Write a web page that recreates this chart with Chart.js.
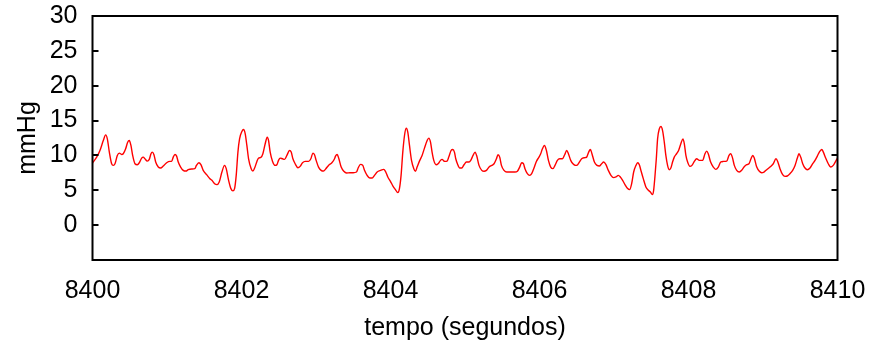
<!DOCTYPE html>
<html>
<head>
<meta charset="utf-8">
<script src="https://cdn.jsdelivr.net/npm/chart.js@4"></script>
<style>
  body { margin: 0; background: #fff; }
  #wrap { width: 875px; height: 344px; }
</style>
</head>
<body>
<div id="wrap"><canvas id="presionChart" width="875" height="344"></canvas></div>
<script>
// tiempo en segundos
const tempo = [
  8400.000, 8400.056, 8400.100, 8400.145, 8400.177, 8400.199, 8400.226, 8400.257, 8400.279, 8400.302,
  8400.333, 8400.360, 8400.392, 8400.413, 8400.445, 8400.472, 8400.494, 8400.516, 8400.539, 8400.570,
  8400.601, 8400.628, 8400.660, 8400.681, 8400.704, 8400.735, 8400.762, 8400.785, 8400.802, 8400.825,
  8400.848, 8400.883, 8400.915, 8400.950, 8400.995, 8401.040, 8401.062, 8401.084, 8401.107, 8401.129,
  8401.151, 8401.183, 8401.218, 8401.254, 8401.285, 8401.330, 8401.373, 8401.395, 8401.428, 8401.455,
  8401.486, 8401.532, 8401.576,
  8401.603, 8401.639, 8401.670, 8401.701, 8401.737, 8401.773, 8401.795, 8401.827, 8401.858, 8401.885,
  8401.907, 8401.929, 8401.952, 8401.974, 8402.005, 8402.028, 8402.050, 8402.072, 8402.095, 8402.130,
  8402.153, 8402.176, 8402.207, 8402.229, 8402.260, 8402.287, 8402.318, 8402.345, 8402.363, 8402.385,
  8402.417, 8402.452, 8402.475, 8402.497, 8402.519, 8402.551, 8402.578, 8402.609, 8402.645, 8402.667,
  8402.690, 8402.720, 8402.757, 8402.787, 8402.819, 8402.855, 8402.900, 8402.931, 8402.958, 8402.980,
  8403.002, 8403.034, 8403.069, 8403.101, 8403.132, 8403.168, 8403.213, 8403.249,
  8403.262, 8403.284, 8403.307, 8403.338, 8403.374, 8403.410, 8403.454, 8403.499, 8403.544, 8403.566,
  8403.597, 8403.628, 8403.651, 8403.686, 8403.722, 8403.754, 8403.785, 8403.821, 8403.866, 8403.910,
  8403.932, 8403.964, 8403.999, 8404.035, 8404.066, 8404.098, 8404.120, 8404.142, 8404.165, 8404.188,
  8404.210, 8404.232, 8404.255, 8404.282, 8404.313, 8404.335, 8404.357, 8404.393, 8404.424, 8404.456,
  8404.492, 8404.514, 8404.537, 8404.558, 8404.581, 8404.612, 8404.639, 8404.671, 8404.692, 8404.728,
  8404.759, 8404.782, 8404.813, 8404.836, 8404.858,
  8404.876, 8404.898, 8404.930, 8404.956, 8404.987, 8405.019, 8405.054, 8405.077, 8405.108, 8405.135,
  8405.158, 8405.188, 8405.225, 8405.256, 8405.288, 8405.323, 8405.359, 8405.390, 8405.422, 8405.443,
  8405.466, 8405.489, 8405.524, 8405.560, 8405.600, 8405.636, 8405.671, 8405.703, 8405.734, 8405.761,
  8405.784, 8405.805, 8405.837, 8405.868, 8405.895, 8405.926, 8405.958, 8405.993, 8406.016, 8406.039,
  8406.066, 8406.093, 8406.120, 8406.150, 8406.181, 8406.208, 8406.240, 8406.271, 8406.307, 8406.338,
  8406.365, 8406.388, 8406.419, 8406.449, 8406.485,
  8406.512, 8406.535, 8406.566, 8406.602, 8406.633, 8406.660, 8406.683, 8406.704, 8406.737, 8406.772,
  8406.803, 8406.834, 8406.861, 8406.892, 8406.924, 8406.959, 8406.995, 8407.026, 8407.058, 8407.085,
  8407.116, 8407.147, 8407.183, 8407.210, 8407.237, 8407.264, 8407.295, 8407.317, 8407.340, 8407.361,
  8407.393, 8407.428, 8407.461, 8407.488, 8407.515, 8407.532, 8407.549, 8407.568, 8407.585, 8407.608,
  8407.630, 8407.652, 8407.675, 8407.696, 8407.719, 8407.742, 8407.763, 8407.786, 8407.809, 8407.840,
  8407.867, 8407.897, 8407.925, 8407.944, 8407.965, 8407.988, 8408.019, 8408.046, 8408.078, 8408.109,
  8408.145,
  8408.190, 8408.221, 8408.244, 8408.265, 8408.297, 8408.333, 8408.365, 8408.400, 8408.432, 8408.467,
  8408.513, 8408.544, 8408.566, 8408.588, 8408.615, 8408.647, 8408.682, 8408.714, 8408.745, 8408.781,
  8408.812, 8408.839, 8408.862, 8408.883, 8408.916, 8408.951, 8408.982, 8409.013, 8409.050, 8409.094,
  8409.138, 8409.174, 8409.197, 8409.228, 8409.264, 8409.295, 8409.326, 8409.362, 8409.398, 8409.430,
  8409.461, 8409.483, 8409.506, 8409.533, 8409.564, 8409.595, 8409.631, 8409.667, 8409.698, 8409.729,
  8409.756, 8409.788, 8409.810, 8409.841, 8409.876, 8409.908, 8409.943, 8409.975, 8410.000
];

// presión en mmHg
const mmHg = [
  8.9, 9.76, 10.71, 12.14, 12.95, 12.38, 10.48, 8.81, 8.57, 8.81,
  10.0, 10.33, 10.14, 10.24, 10.95, 11.9, 12.14, 11.43, 10.0, 8.81,
  8.67, 8.95, 9.62, 9.76, 9.52, 9.19, 9.43, 10.24, 10.48, 10.1,
  9.05, 8.33, 8.19, 8.48, 8.95, 9.14, 9.14, 9.76, 10.14, 9.9,
  9.05, 8.33, 7.86, 7.76, 7.95, 8.05, 8.1, 8.57, 8.95, 8.67,
  7.86, 7.24, 6.67,
  6.43, 5.95, 5.81, 6.19, 7.62, 8.57, 8.1, 6.43, 5.24, 4.91,
  5.24, 7.14, 10.48, 12.38, 13.43, 13.72, 13.1, 11.43, 9.52, 8.1,
  7.76, 8.19, 9.14, 9.62, 9.71, 10.24, 11.67, 12.62, 12.14, 10.48,
  9.14, 8.57, 8.67, 9.29, 9.62, 9.52, 9.43, 10.0, 10.71, 10.48,
  9.52, 8.81, 8.24, 8.43, 8.95, 9.14, 9.14, 9.52, 10.33, 10.1,
  9.29, 8.33, 7.86, 7.76, 8.1, 8.57, 8.95, 9.52,
  9.91, 10.14, 9.52, 8.33, 7.72, 7.48, 7.52, 7.52, 7.62, 8.19,
  8.71, 8.57, 7.86, 7.14, 6.76, 6.76, 7.14, 7.62, 7.86, 8.0,
  7.72, 6.91, 6.29, 5.57, 5.1, 4.67, 5.24, 7.14, 10.48, 12.86,
  13.9, 13.34, 11.43, 9.29, 8.1, 7.72, 8.33, 9.29, 10.0, 11.05,
  12.14, 12.48, 11.91, 10.48, 9.29, 8.67, 8.81, 9.29, 9.43, 9.14,
  9.19, 9.76, 10.71, 10.86, 10.48,
  9.52, 8.81, 8.19, 8.19, 8.67, 9.05, 9.05, 9.29, 10.0, 10.48,
  9.91, 8.57, 7.86, 7.72, 7.86, 8.33, 8.57, 8.81, 9.52, 10.1,
  9.76, 8.57, 7.86, 7.62, 7.62, 7.62, 7.62, 7.72, 8.33, 8.95,
  8.81, 8.1, 7.38, 7.14, 7.38, 8.19, 9.14, 9.76, 10.24, 10.95,
  11.43, 10.71, 9.29, 8.33, 8.1, 8.57, 9.29, 9.52, 9.52, 10.1,
  10.71, 10.24, 9.29, 8.81, 8.57,
  8.67, 9.05, 9.52, 9.67, 9.76, 10.48, 10.86, 10.24, 9.05, 8.57,
  8.48, 8.81, 9.05, 8.67, 7.86, 7.14, 6.81, 6.91, 7.14, 6.91,
  6.43, 5.81, 5.24, 5.1, 5.95, 7.62, 8.57, 8.95, 8.67, 7.86,
  6.67, 5.48, 5.0, 4.76, 4.38, 5.0, 6.91, 9.52, 12.38, 13.81,
  14.14, 13.57, 11.91, 10.0, 8.57, 7.95, 8.19, 9.05, 9.76, 10.24,
  10.71, 11.67, 12.38, 11.67, 10.0, 9.05, 8.43, 8.57, 9.14, 9.52,
  9.29,
  9.29, 10.24, 10.62, 10.24, 9.05, 8.33, 8.0, 8.33, 9.05, 9.14,
  9.19, 10.0, 10.24, 9.76, 8.57, 7.86, 7.62, 7.86, 8.33, 8.67,
  8.81, 9.52, 10.0, 9.62, 8.33, 7.72, 7.52, 7.62, 7.95, 8.33,
  8.81, 9.52, 9.14, 8.1, 7.24, 7.0, 7.05, 7.38, 7.86, 8.57,
  9.62, 10.24, 9.76, 8.81, 8.19, 7.95, 8.19, 8.81, 9.29, 9.91,
  10.48, 10.86, 10.48, 9.62, 8.81, 8.33, 8.57, 9.14, 9.62
];

const xTicks = [8400, 8402, 8404, 8406, 8408, 8410];
const yTicks = [0, 5, 10, 15, 20, 25, 30];

const fuente = "'Liberation Sans', Arial, sans-serif";

// marco negro con marcas hacia dentro
const marcoPlugin = {
  id: 'marco',
  afterDraw(chart) {
    const ctx = chart.ctx;
    const a = chart.chartArea;
    const y = chart.scales.y;
    ctx.save();
    ctx.strokeStyle = '#000';
    ctx.lineWidth = 2;
    ctx.strokeRect(a.left, a.top, a.right - a.left, a.bottom - a.top);
    ctx.beginPath();
    yTicks.forEach(v => {
      const py = Math.round(y.getPixelForValue(v));
      ctx.moveTo(a.left, py);
      ctx.lineTo(a.left + 6, py);
      ctx.moveTo(a.right, py);
      ctx.lineTo(a.right - 6, py);
    });
    ctx.stroke();
    ctx.restore();
  }
};

const ctx = document.getElementById('presionChart').getContext('2d');
new Chart(ctx, {
  type: 'line',
  data: {
    datasets: [{
      data: tempo.map((t, i) => ({ x: t, y: mmHg[i] })),
      borderColor: '#ff0000',
      borderWidth: 1.4,
      pointRadius: 0,
      fill: false,
      cubicInterpolationMode: 'monotone'
    }]
  },
  options: {
    responsive: false,
    animation: false,
    layout: { padding: { top: 16, right: 37.5, left: 0, bottom: 0 } },
    plugins: { legend: { display: false }, tooltip: { enabled: false } },
    scales: {
      x: {
        type: 'linear',
        min: 8400,
        max: 8410,
        afterFit(scale) {
          scale.height = 84;
          scale.paddingLeft = 0;
          scale.paddingRight = 0;
        },
        afterBuildTicks(scale) { scale.ticks = xTicks.map(v => ({ value: v })); },
        grid: { display: false, drawTicks: false },
        border: { display: false },
        ticks: {
          color: '#000',
          padding: 16,
          font: { family: fuente, size: 25 },
          callback: v => String(v)
        },
        title: {
          display: true,
          text: 'tempo (segundos)',
          color: '#000',
          padding: { top: 1, bottom: 1 },
          font: { family: fuente, size: 25 }
        }
      },
      y: {
        min: -5,
        max: 30,
        afterFit(scale) {
          scale.width = 92.5;
          scale.paddingTop = 0;
          scale.paddingBottom = 0;
        },
        afterBuildTicks(scale) { scale.ticks = yTicks.map(v => ({ value: v })); },
        grid: { display: false, drawTicks: false },
        border: { display: false },
        ticks: {
          color: '#000',
          padding: 15,
          font: { family: fuente, size: 25 },
          callback: v => String(v)
        },
        title: {
          display: true,
          text: 'mmHg',
          color: '#000',
          padding: { top: 13, bottom: 13 },
          font: { family: fuente, size: 25 }
        }
      }
    }
  },
  plugins: [marcoPlugin]
});
</script>
</body>
</html>
